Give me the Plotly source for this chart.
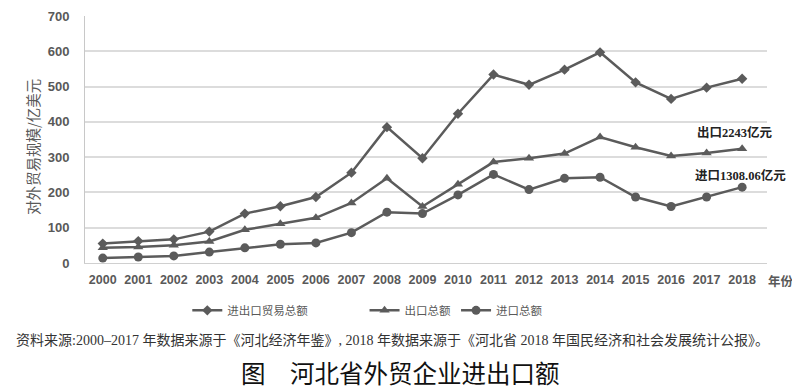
import plotly.graph_objects as go

years = list(range(2000, 2019))
total = [55, 62, 67, 89, 140, 161, 187, 256, 385, 297, 423, 534, 505, 548, 597, 512, 465, 497, 522]
export = [43, 45, 50, 61, 94, 111, 128, 170, 240, 160, 223, 286, 297, 310, 357, 328, 303, 312, 324]
imports = [14, 17, 20, 31, 43, 53, 57, 86, 144, 140, 193, 251, 208, 240, 243, 187, 160, 187, 215]
series_names = ["进出口贸易总额", "出口总额", "进口总额"]
y_ticks = [0, 100, 200, 300, 400, 500, 600, 700]

LINE = "#5b5b5b"
CJK = "Noto Sans CJK SC"
SERIF = "Liberation Serif, Noto Sans CJK SC"

# page body has an 8px margin, so the figure is sized to fit the 800x390 window
fig = go.Figure()
pads = ["\u2003\u2003\u2003\u2003\u2002", "", ""]
for name, vals, sym, sz, pad in [
    (series_names[0], total, "diamond", 8, pads[0]),
    (series_names[1], export, "triangle-up", 9, pads[1]),
    (series_names[2], imports, "circle", 9, pads[2]),
]:
    fig.add_trace(go.Scatter(
        x=years, y=vals, name=name + pad, mode="lines+markers",
        line=dict(color=LINE, width=2.5),
        marker=dict(symbol=sym, size=sz, color=LINE),
    ))

fig.update_layout(
    width=792, height=382,
    margin=dict(l=77, r=33, t=8, b=127),
    paper_bgcolor="white", plot_bgcolor="white",
    font=dict(family=CJK, color="#595959"),
    showlegend=True,
    legend=dict(orientation="h", x=0.15, xanchor="left", y=-0.133, yanchor="top",
                font=dict(size=11.5, color="#595959", family=CJK),
                itemwidth=30, tracegroupgap=0),
)
fig.update_xaxes(
    range=[1999.5, 2018.7], tickmode="array", tickvals=years,
    ticktext=[str(y) for y in years], automargin=False,
    tickfont=dict(size=12.5, family="Liberation Sans", color="#595959", weight="bold"),
    showgrid=False, showline=True, linecolor="#d0d0d0", linewidth=1,
    ticks="", zeroline=False, ticklabelstandoff=5,
)
fig.update_yaxes(
    range=[0, 700], tickvals=y_ticks, automargin=False,
    tickfont=dict(size=13, family="Liberation Sans", color="#595959", weight="bold"),
    showgrid=True, gridcolor="#dcdcdc", gridwidth=1.5,
    showline=True, linecolor="#c8c8c8", linewidth=1,
    ticks="", zeroline=False, ticklabelstandoff=12,
)

fig.add_annotation(x=(33 - 85) / 682, xref="paper", xanchor="center", y=0.47, yref="paper",
                   yanchor="middle", showarrow=False,
                   text="对外贸易规模/亿美元", textangle=-90,
                   font=dict(size=14.5, family=CJK, color="#595959"))
fig.add_annotation(x=0.999, xref="paper", xanchor="left", y=-0.07, yref="paper",
                   yanchor="middle", text="年份", showarrow=False,
                   font=dict(size=12.5, family=CJK, color="#595959", weight="bold"))
fig.add_annotation(x=1.012, xref="paper", xanchor="right", y=0.530, yref="paper",
                   yanchor="middle", text="出口2243亿元", showarrow=False,
                   font=dict(size=12.5, family=SERIF, color="#222222", weight="bold"))
fig.add_annotation(x=1.031, xref="paper", xanchor="right", y=0.356, yref="paper",
                   yanchor="middle", text="进口1308.06亿元", showarrow=False,
                   font=dict(size=12.5, family=SERIF, color="#222222", weight="bold"))
fig.add_annotation(x=(392 - 85) / 682, xref="paper", xanchor="center", y=-0.312, yref="paper",
                   yanchor="middle", showarrow=False,
                   text="资料来源:2000–2017 年数据来源于《河北经济年鉴》, 2018 年数据来源于《河北省 2018 年国民经济和社会发展统计公报》。",
                   font=dict(size=14, family=SERIF, color="#333333"))
fig.add_annotation(x=(400 - 85) / 682, xref="paper", xanchor="center", y=-(372 - 263) / 247,
                   yref="paper", yanchor="middle", showarrow=False, borderpad=0,
                   text="图\u2003河北省外贸企业进出口额",
                   font=dict(size=24.5, family=CJK, color="#111111"))

fig.write_html("out.html")
